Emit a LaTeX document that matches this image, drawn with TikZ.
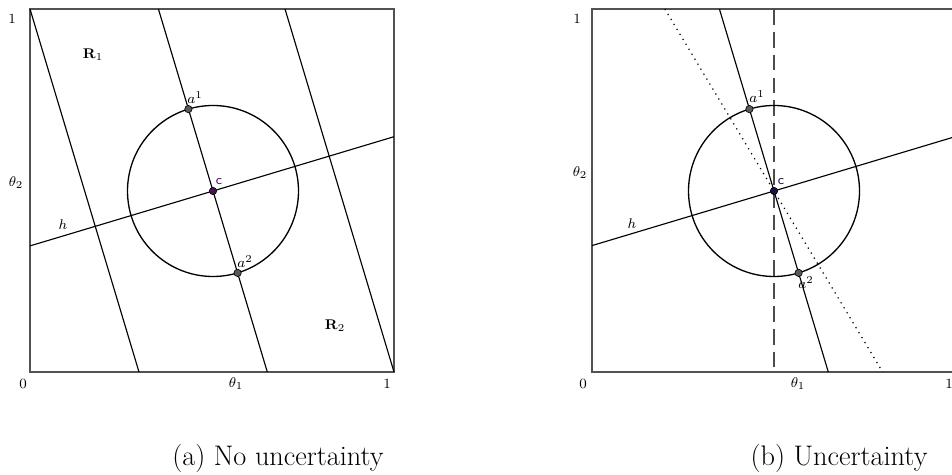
\documentclass[tikz,border=0pt]{standalone}
\begin{document}
\begin{tikzpicture}[x=0.02cm,y=-0.02cm,
  lbl/.style={font=\fontsize{8}{9}\selectfont, inner sep=0pt},
  captxt/.style={font=\fontsize{16.1}{19}\selectfont, inner sep=0pt, anchor=base},
  frame/.style={draw=black!68, line width=1.1pt},
  cut/.style={draw=black, line width=0.65pt},
  circ/.style={draw=black, line width=0.75pt},
  dashln/.style={draw=black!70, line width=0.9pt, dash pattern=on 9pt off 4pt},
  dotln/.style={draw=black, line width=0.7pt, dash pattern=on 0.7pt off 2.6pt},
  pt/.style={circle, fill=black!65, draw=black, line width=0.35pt, inner sep=0pt, minimum size=4.2pt},
  cpt/.style={pt, fill=cleft},
  clab/.style={font=\fontsize{7.5}{9}\sffamily\selectfont, inner sep=0pt},
]
\definecolor{cleft}{RGB}{70,20,80}
\definecolor{cright}{RGB}{20,20,70}
\path[use as bounding box] (0,0) rectangle (952,475);
\clip (0,0) rectangle (952,475);

% ---------------- panel (a) ----------------
\coordinate (A00) at (30,372);
\coordinate (A10) at (394,372);
\coordinate (A11) at (394,9);
\coordinate (A01) at (30,9);
\draw[frame] (A00) -- (A10) -- (A11) -- (A01) -- cycle;

\coordinate (AL1t) at (30,9);     \coordinate (AL1b) at (139,372);
\coordinate (AL2t) at (158.4,9);  \coordinate (AL2b) at (267.3,372);
\coordinate (AL3t) at (285,9);    \coordinate (AL3b) at (394,372);
\coordinate (AHl) at (30,245.9);  \coordinate (AHr) at (394,136.7);
\draw[cut] (AL1t) -- (AL1b);
\draw[cut] (AL2t) -- (AL2b);
\draw[cut] (AL3t) -- (AL3b);
\draw[cut] (AHl) -- (AHr);
\draw[circ] (213,191) circle [radius=85.5];

\node[pt] (Aa1) at (188.4,109.1) {};
\node[pt] (Aa2) at (237.6,272.9) {};
\node[cpt] (Ac) at (213,191) {};

\node[lbl] (Aa1l) at (195,98) {$a^1$};
\node[lbl] (Aa2l) at (245,262) {$a^2$};
\node[clab, text=cleft] (Acl) at (219,182) {c};
\node[lbl] (Ah) at (63,225) {$h$};
\node[lbl] (AR1) at (93,55) {$\mathbf{R}_1$};
\node[lbl] (AR2) at (335,326) {$\mathbf{R}_2$};
\node[lbl] (Ay1) at (12,19) {1};
\node[lbl] (Ax0) at (23,384) {0};
\node[lbl] (Ax1) at (387,384) {1};
\node[lbl] (Ath1) at (236,384) {$\theta_1$};
\node[lbl] (Ath2) at (16,183) {$\theta_2$};
\node[captxt] (Acap) at (278,465) {(a) No uncertainty};

% ---------------- panel (b) ----------------
\coordinate (B00) at (592,372);
\coordinate (B10) at (956,372);
\coordinate (B11) at (956,9);
\coordinate (B01) at (592,9);
\draw[frame] (B00) -- (B10) -- (B11) -- (B01) -- cycle;

\coordinate (BLt) at (719.4,9);  \coordinate (BLb) at (828.3,372);
\coordinate (BDt) at (664.8,9);  \coordinate (BDb) at (882.6,372);
\coordinate (BVt) at (774,9);    \coordinate (BVb) at (774,372);
\coordinate (BHl) at (592,245.6); \coordinate (BHr) at (956,136.4);
\draw[dashln] (BVt) -- (BVb);
\draw[dotln] (BDt) -- (BDb);
\draw[cut] (BLt) -- (BLb);
\draw[cut] (BHl) -- (BHr);
\draw[circ] (774,191) circle [radius=85.5];

\node[pt] (Ba1) at (749.4,109.1) {};
\node[pt] (Ba2) at (798.6,272.9) {};
\node[pt, fill=cright] (Bc) at (774,191) {};

\node[lbl] (Ba1l) at (757,97) {$a^1$};
\node[lbl] (Ba2l) at (806,283) {$a^2$};
\node[clab, text=cright] (Bcl) at (781,182) {c};
\node[lbl] (Bh) at (632,224) {$h$};
\node[lbl] (By1) at (577,19) {1};
\node[lbl] (Bx0) at (583,384) {0};
\node[lbl] (Bx1) at (949,384) {1};
\node[lbl] (Bth1) at (798,384) {$\theta_1$};
\node[lbl] (Bth2) at (580,173) {$\theta_2$};
\node[captxt] (Bcap) at (839,465) {(b) Uncertainty};
\end{tikzpicture}
\end{document}
